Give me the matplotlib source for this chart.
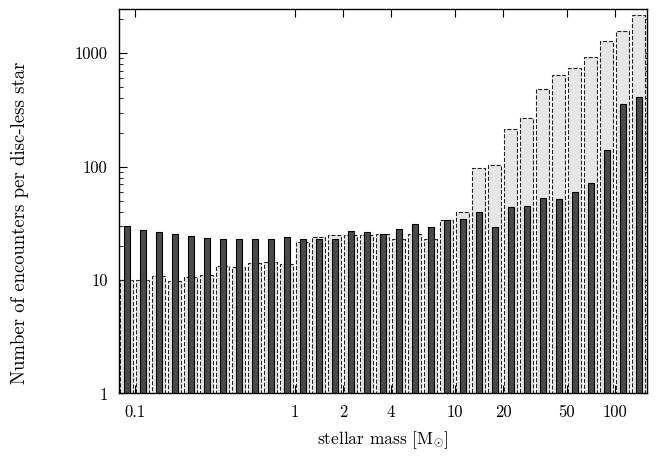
import numpy as np
import matplotlib.pyplot as plt

plt.rcParams['font.family'] = 'serif'
plt.rcParams['font.serif'] = ['cmr10', 'DejaVu Serif']
plt.rcParams['mathtext.fontset'] = 'cm'
plt.rcParams['axes.formatter.use_mathtext'] = True

# log10 of bin centres (0.1 dex bins)
log_mass = np.round(np.arange(-1.05, 2.2, 0.1), 2)

# encounters per disc-less star (dark bars)
dark_vals = [29.8, 27.8, 26.4, 25.5, 24.3, 23.4, 23.2, 23.0, 22.9, 23.2, 23.9,
             23.1, 22.9, 22.8, 27.0, 26.5, 25.5, 28.1, 31.2, 29.4, 33.7, 34.8,
             39.6, 29.2, 44.1, 45.0, 53.3, 51.9, 59.5, 71.8, 140, 355, 412]
# light dashed bars
light_vals = [10.0, 10.0, 10.8, 9.8, 10.6, 11.0, 13.2, 13.0, 14.1, 14.5, 14.0,
              21.6, 24.0, 24.8, 25.0, 25.2, 25.5, 23.2, 25.3, 22.9, 34.2, 39.6,
              96.8, 103.5, 214, 267, 482, 640, 747, 927, 1276, 1563, 2163]

xticks = [0.1, 1, 2, 4, 10, 20, 50, 100]
xticklabels = ['0.1', '1', '2', '4', '10', '20', '50', '100']

fig = plt.figure(figsize=(6.6, 4.57), dpi=100)
ax = fig.add_axes([0.180, 0.139, 0.800, 0.841])

half_light = 0.1 * 13 / 32
half_dark = 0.1 * 6 / 32
left_l = 10 ** (log_mass - half_light)
right_l = 10 ** (log_mass + half_light)
left_d = 10 ** (log_mass - half_dark)
right_d = 10 ** (log_mass + half_dark)

base = 0.5
ax.bar(left_l, np.array(light_vals) - base, width=right_l - left_l, bottom=base,
       align='edge', color='#e6e6e6', edgecolor='#222222', linestyle='--',
       linewidth=0.8, zorder=2)
ax.bar(left_d, np.array(dark_vals) - base, width=right_d - left_d, bottom=base,
       align='edge', color='#4a4a4a', edgecolor='black', linewidth=0.8, zorder=3)

ax.set_xscale('log')
ax.set_yscale('log')
ax.set_xlim(10 ** -1.1, 10 ** 2.2)
ax.set_ylim(1, 2450)

ax.set_xticks(xticks)
ax.set_xticklabels(xticklabels)
ax.xaxis.set_minor_locator(plt.NullLocator())
ax.set_yticks([1, 10, 100, 1000])
ax.set_yticklabels(['1', '10', '100', '1000'])

ax.tick_params(which='both', direction='in', top=True, right=True, labelsize=12)
ax.tick_params(which='major', length=5.5, width=0.8, pad=8)
ax.tick_params(which='minor', length=3, width=0.6)
for s in ax.spines.values():
    s.set_linewidth(1.0)
    s.set_zorder(5)

ax.set_xlabel(r'stellar mass [M$_{\odot}$]', fontsize=12.5, labelpad=7)
ax.set_ylabel('Number of encounters per disc-less star', fontsize=13.5)
ax.yaxis.set_label_coords(-0.170, 0.445)

fig.savefig('out.png', dpi=100)
